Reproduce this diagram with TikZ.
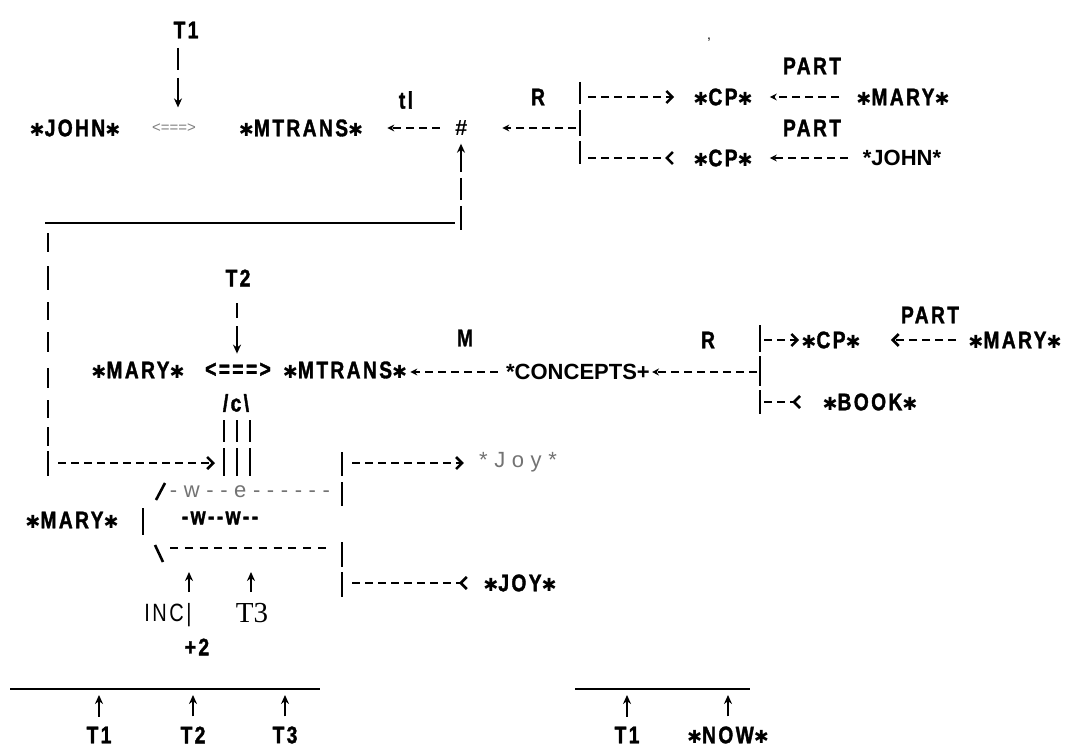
\documentclass[tikz,border=0pt]{standalone}
\usepackage{fontspec}
\setmainfont{Liberation Sans}
\newfontfamily\lpf[LetterSpace=10,FakeStretch=0.8,Ligatures=TeXOff,BoldFeatures={FakeBold=1.5}]{Liberation Sans}
\newfontfamily\arf{Liberation Sans}
\newfontfamily\grf[LetterSpace=30,Ligatures=TeXOff]{Liberation Sans}
\newfontfamily\srf{Liberation Serif}
\newfontfamily\djv{DejaVu Sans}
\usetikzlibrary{arrows.meta,calc}
\newcommand\sx{{\djv\fontsize{18}{18}\selectfont ✱}}
\begin{document}
\begin{tikzpicture}[x=1pt,y=-1pt,
  lp/.style={font=\lpf\bfseries\fontsize{24}{28}\selectfont, inner sep=0pt},
  ar/.style={font=\arf\bfseries\fontsize{22}{26}\selectfont, inner sep=0pt},
  gr/.style={font=\grf\fontsize{22}{26}\selectfont, text=black!55, inner sep=0pt},
  gs/.style={font=\arf\fontsize{15}{18}\selectfont, text=black!50, inner sep=0pt},
  rg/.style={font=\lpf\fontsize{25}{28}\selectfont, inner sep=0pt},
  sf/.style={font=\srf\fontsize{29}{32}\selectfont, inner sep=0pt},
  dsh/.style={line width=2.3pt, dash pattern=on 8pt off 5pt},
  hd/.style={-{Stealth[length=7pt,width=7pt]}},
  chev/.style={-{Straight Barb[length=6pt,width=12pt,line width=2.6pt]}},
  rchev/.style={-{Straight Barb[reversed,length=6pt,width=12pt,line width=2.6pt]}},
  bar/.style={line width=1.3pt},
  mbar/.style={line width=1.9pt},
  tbar/.style={line width=2.6pt},
  varr/.style={line width=2.2pt,-{Stealth[length=9pt,width=8pt]}}]
\useasboundingbox (0,0) rectangle (1077,749);
\fill[white] (0,0) rectangle (1077,749);

% ---------- top ----------
\node[lp] (t1a) at (186,30) {T1};
\node[gs] (eq1) at (174,128) {<===>};
\node[lp] (john1) at (75,128) {\sx JOHN\sx};
\node[lp] (mt1) at (301,128) {\sx MTRANS\sx};
\node[font=\arf\bfseries\itshape\fontsize{22}{24}\selectfont, inner sep=0pt] (hash) at (461,128) {\#};
\node[lp] (tl) at (406,100) {tl};
\node[lp] (r1) at (538,97) {R};
\node[lp] (part1) at (812,66) {PART};
\node[lp] (cp1) at (723,97) {\sx CP\sx};
\node[lp] (mary1) at (903,97) {\sx MARY\sx};
\node[lp] (part2) at (812,128) {PART};
\node[lp] (cp2) at (723,158) {\sx CP\sx};
\node[ar] (john2) at (902,158) {*JOHN*};
\node[font=\arf\fontsize{14}{16}\selectfont, inner sep=0pt] (comma) at (709,40) {,};

\coordinate (k1) at (178,48);
\coordinate (k2) at (178,70);
\coordinate (k3) at (178,78);
\draw[bar] (k1) -- (k2);
\draw[varr, shorten >=16pt] (k3) -- (k3 |- eq1.north);

\coordinate (b1t) at (580,97);
\coordinate (b1m) at (580,128);
\coordinate (b1b) at (580,158);
\draw[tbar] (580,82) -- (580,104);
\draw[mbar] (580,110) -- (580,136);
\draw[bar] (580,141) -- (580,164);

\draw[dsh,hd,shorten <=15pt,shorten >=24pt] (hash.west) -- (mt1.east);
\draw[dsh,hd,shorten <=4pt,shorten >=35pt] (b1m) -- (hash.east |- b1m);
\draw[dsh,chev,shorten <=8pt,shorten >=19pt] (b1t) -- (cp1.west |- b1t);
\draw[dsh,hd,shorten <=17pt,shorten >=17pt] (mary1.west) -- (cp1.east);
\draw[dsh,rchev,shorten <=8pt,shorten >=19pt] (b1b) -- (cp2.west |- b1b);
\draw[dsh,hd,shorten <=15pt,shorten >=17pt] (john2.west) -- (cp2.east);

\coordinate (h1) at (461,172);
\draw[varr, shorten >=8pt] (h1) -- (h1 |- hash.south);
\draw[bar] (461,178) -- (461,200);
\draw[tbar] (461,206) -- (461,230);
\draw[tbar] (45,223) -- (455,223);

% left broken vertical
\draw[tbar] (48,233) -- (48,252);
\draw[tbar] (48,266) -- (48,290);
\draw[bar] (48,302) -- (48,320);
\draw[bar] (48,332) -- (48,352);
\draw[bar] (48,368) -- (48,388);
\draw[bar] (48,400) -- (48,418);
\draw[bar] (48,427) -- (48,446);
\draw[bar] (48,451) -- (48,476);

% ---------- middle ----------
\node[lp] (t2) at (238,278) {T2};
\draw[bar] (237,303) -- (237,318);
\coordinate (k4) at (237,326);
\node[lp] (eq2) at (238,370) {<===>};
\draw[varr, shorten >=9pt] (k4) -- (k4 |- eq2.north);
\node[lp] (mary2) at (138,370) {\sx MARY\sx};
\node[lp] (mt2) at (345,370) {\sx MTRANS\sx};
\node[lp] (m) at (465,338) {M};
\node[ar] (conc) at (578,372) {*CONCEPTS+};
\node[lp] (r2) at (708,340) {R};
\node[lp] (part3) at (930,315) {PART};
\node[lp] (cp3) at (831,340) {\sx CP\sx};
\node[lp] (mary4) at (1015,340) {\sx MARY\sx};
\node[lp] (book) at (870,402) {\sx BOOK\sx};

\coordinate (b2t) at (760,340);
\coordinate (b2m) at (760,372);
\coordinate (b2b) at (760,402);
\draw[bar] (760,325) -- (760,352);
\draw[mbar] (760,356) -- (760,386);
\draw[bar] (760,390) -- (760,414);

\draw[dsh,hd,shorten <=8pt,shorten >=3pt] (conc.west) -- (mt2.east |- conc.west);
\draw[dsh,hd,shorten <=3pt,shorten >=2pt] (b2m) -- (conc.east |- b2m);
\draw[dsh,chev,shorten <=4pt,shorten >=2pt] (b2t) -- (cp3.west |- b2t);
\draw[dsh,chev,shorten <=12pt,shorten >=30pt] (mary4.west) -- (cp3.east);
\draw[dsh,rchev,shorten <=4pt,shorten >=21pt] (b2b) -- (book.west |- b2b);

\node[lp] (cn) at (236,403) {/c\textbackslash};
\foreach \xx in {224,237,250}{
  \draw[bar] (\xx,420) -- (\xx,442);
  \draw[mbar] (\xx,448) -- (\xx,476);
}
\coordinate (lb) at (48,463);
\coordinate (cbar) at (221,463);
\draw[dsh,chev,shorten <=10pt,shorten >=6pt] (lb) -- (cbar);

% right bracket bars
\draw[bar] (342,452) -- (342,476);
\draw[bar] (342,482) -- (342,506);
\draw[bar] (342,542) -- (342,567);
\draw[bar] (342,572) -- (342,597);

\node[gr] (joy1) at (518,462) {*Joy*};
\coordinate (rb1) at (342,463);
\draw[dsh,chev,shorten <=10pt,shorten >=15pt] (rb1) -- (joy1.west |- rb1);
\node[lp] (joy2) at (520,583) {\sx JOY\sx};
\coordinate (rb2) at (342,583);
\draw[dsh,rchev,shorten <=10pt,shorten >=15pt] (rb2) -- (joy2.west |- rb2);

\node[gr] (wwe) at (250,492) {-w--e------};
\node[lp] (mary3) at (72,520) {\sx MARY\sx};
\draw[tbar] (143,508) -- (143,535);
\node[lp] (ww) at (220,518) {-w--w--};
\draw[tbar] (156,500) -- (165,483);
\draw[tbar] (155,545) -- (163,562);
\draw[dsh, dash pattern=on 8pt off 6.8pt] (170,548) -- (331,548);

\draw[varr] (189,592) -- (189,572);
\draw[varr] (251,592) -- (251,572);
\node[rg] (inc) at (168,615) {INC|};
\node[sf] (t3a) at (252,613) {T3};
\node[lp] (p2) at (197,647) {+2};

% ---------- bottom ----------
\coordinate (L1) at (10,689);
\coordinate (L2) at (320,689);
\coordinate (L3) at (575,689);
\coordinate (L4) at (750,689);
\draw[tbar] (L1) -- (L2);
\draw[tbar] (L3) -- (L4);
\node[lp] (T1b) at (99,735) {T1};
\node[lp] (T2b) at (193,735) {T2};
\node[lp] (T3b) at (285,735) {T3};
\node[lp] (T1c) at (627,735) {T1};
\node[lp] (now) at (728,735) {\sx NOW\sx};
\foreach \n in {T1b,T2b,T3b,T1c,now}{
  \draw[varr, shorten <=10pt, shorten >=6pt] (\n.north) -- (\n.north |- L1);
}
\end{tikzpicture}
\end{document}
